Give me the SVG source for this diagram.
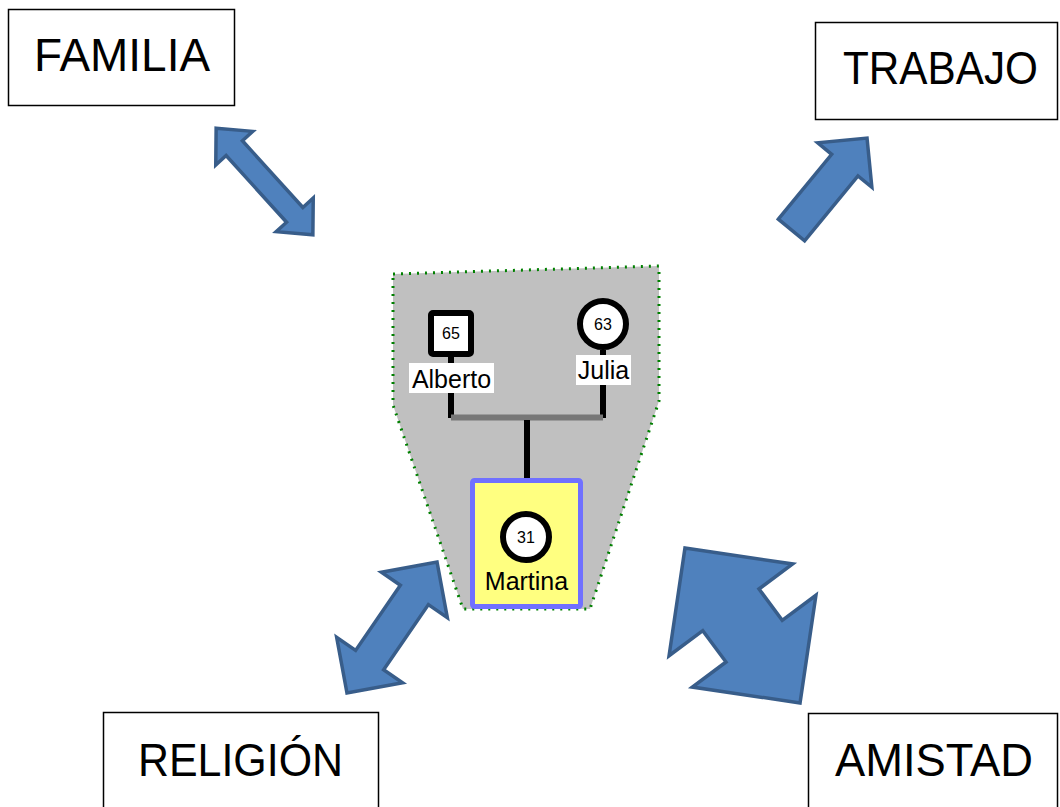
<svg xmlns="http://www.w3.org/2000/svg" width="1060" height="807" viewBox="0 0 1060 807">
  <style>
    .box { fill: #ffffff; stroke: #000000; stroke-width: 1.5; }
    .boxtxt { font-family: "Liberation Sans", Arial, sans-serif; font-size: 46px; fill: #000000; }
    .arrow { fill: #4f81bd; stroke: #385d8a; stroke-width: 3.5; stroke-linejoin: miter; }
    .line { stroke: #000000; stroke-width: 6; }
    .num { font-family: "Liberation Sans", Arial, sans-serif; font-size: 16px; fill: #000000; text-anchor: middle; }
    .name { font-family: "Liberation Sans", Arial, sans-serif; font-size: 25px; fill: #000000; text-anchor: middle; }
    .labelbg { fill: #ffffff; }
  </style>
  <rect width="1060" height="807" fill="#ffffff"/>

  <!-- Genogram cluster background -->
  <g id="cluster">
    <polygon points="393,274 659,266 659,401 590,609 463,609 393,405" fill="#c0c0c0" stroke="#008000" stroke-width="3" stroke-dasharray="2 6"/>
  </g>

  <!-- Connectors -->
  <g id="connectors">
    <line class="line" x1="451" y1="357" x2="451" y2="418"/>
    <line class="line" x1="603" y1="350" x2="603" y2="418"/>
    <line x1="451" y1="417.5" x2="603" y2="417.5" stroke="#777777" stroke-width="6"/>
    <line class="line" x1="527" y1="420" x2="527" y2="479"/>

    <polygon id="arrow-familia" class="arrow" transform="translate(264.5,181.5) rotate(47.8)"
      points="-72,0 -45,-25 -45,-11 45,-11 45,-25 72,0 45,25 45,11 -45,11 -45,25"/>
    <polygon id="arrow-trabajo" class="arrow" transform="translate(791.5,230) rotate(-50.6)"
      points="0,-17 84,-17 84,-35 119,0 84,35 84,17 0,17"/>
    <polygon id="arrow-religion" class="arrow" transform="translate(392,627.5) rotate(-55.5)"
      points="-79.5,0 -39.5,-40 -39.5,-17 39.5,-17 39.5,-40 79.5,0 39.5,40 39.5,17 -39.5,17 -39.5,40"/>
    <polygon id="arrow-amistad" class="arrow" transform="translate(742.5,625.5) rotate(53.4)"
      points="-96.5,0 -19.5,-77 -19.5,-35 19.5,-35 19.5,-77 96.5,0 19.5,77 19.5,35 -19.5,35 -19.5,77"/>
  </g>

  <!-- Outer category boxes -->
  <g id="familia">
    <rect class="box" x="8.5" y="9.5" width="226" height="96"/>
    <text class="boxtxt" x="34" y="71" textLength="176" lengthAdjust="spacingAndGlyphs">FAMILIA</text>
  </g>
  <g id="trabajo">
    <rect class="box" x="815.5" y="22.5" width="242" height="97"/>
    <text class="boxtxt" x="843" y="84" textLength="195" lengthAdjust="spacingAndGlyphs">TRABAJO</text>
  </g>
  <g id="religion">
    <rect class="box" x="103.5" y="712.5" width="275" height="110"/>
    <text class="boxtxt" x="138" y="776" textLength="205" lengthAdjust="spacingAndGlyphs">RELIGIÓN</text>
  </g>
  <g id="amistad">
    <rect class="box" x="808.5" y="713.5" width="249" height="110"/>
    <text class="boxtxt" x="835" y="776" textLength="198" lengthAdjust="spacingAndGlyphs">AMISTAD</text>
  </g>

  <!-- Family members -->
  <g id="alberto">
    <rect x="431" y="313" width="40" height="41" fill="#ffffff" stroke="#000000" stroke-width="6" rx="2"/>
    <text class="num" x="451" y="339">65</text>
    <rect class="labelbg" x="409" y="363" width="85" height="30"/>
    <text class="name" x="451.5" y="388">Alberto</text>
  </g>
  <g id="julia">
    <circle cx="603" cy="324" r="23" fill="#ffffff" stroke="#000000" stroke-width="6"/>
    <text class="num" x="603" y="330">63</text>
    <rect class="labelbg" x="576" y="355" width="55" height="30"/>
    <text class="name" x="603.5" y="379">Julia</text>
  </g>
  <g id="martina">
    <rect x="472.5" y="480.5" width="108" height="126" rx="2" fill="#ffff80" stroke="#7070ff" stroke-width="5"/>
    <circle cx="526" cy="537" r="23" fill="#ffffff" stroke="#000000" stroke-width="6"/>
    <text class="num" x="526" y="543">31</text>
    <text class="name" x="526.5" y="590">Martina</text>
  </g>
</svg>
